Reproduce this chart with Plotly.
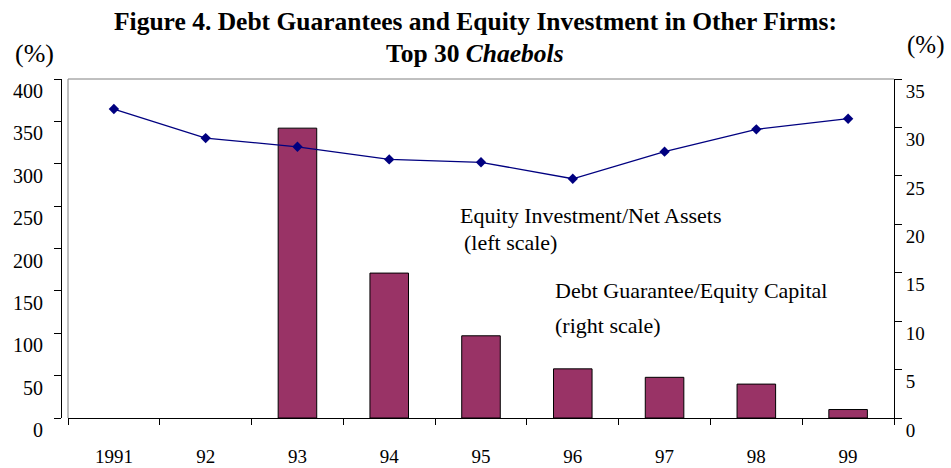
import plotly.graph_objects as go

categories = ["1991", "92", "93", "94", "95", "96", "97", "98", "99"]
bar_values = [None, None, 342, 171, 97, 58, 48, 40, 10]
line_values = [31.9, 28.9, 28.0, 26.7, 26.4, 24.7, 27.5, 29.8, 30.9]
left_ticks = [0, 50, 100, 150, 200, 250, 300, 350, 400]
right_ticks = [0, 5, 10, 15, 20, 25, 30, 35]

FONT = "Liberation Serif, Times New Roman, serif"

fig = go.Figure()
fig.add_trace(go.Bar(
    x=categories, y=bar_values, yaxis="y", xaxis="x",
    marker=dict(color="#993366", line=dict(color="black", width=1)),
    width=0.42, showlegend=False,
))
fig.add_trace(go.Scatter(
    x=categories, y=line_values, yaxis="y2", xaxis="x",
    mode="lines+markers",
    line=dict(color="#000080", width=1.3),
    marker=dict(symbol="diamond", size=8, color="#000080"),
    showlegend=False,
))

W, H = 951, 468
L, R, T, B = 61, 57, 79, 50
pw = W - L - R
ph = H - T - B

def px_x(x):
    return (x - L) / pw

def px_y(y):
    return (H - B - y) / ph

fig.update_layout(
    width=W, height=H,
    margin=dict(l=L, r=R, t=T, b=B, autoexpand=False),
    paper_bgcolor="white", plot_bgcolor="white",
    font=dict(family=FONT, size=19, color="black"),
    xaxis=dict(
        domain=[7 / pw, 1], type="category", range=[-0.5, 8.5],
        showline=True, linecolor="black", linewidth=1,
        ticks="outside", tickson="boundaries", ticklen=6, tickcolor="black",
        ticklabelstandoff=21, showgrid=False, zeroline=False, automargin=False,
        tickfont=dict(family=FONT, size=19),
    ),
    yaxis=dict(
        range=[0, 400], tickvals=left_ticks, anchor="free", position=0,
        showline=True, linecolor="black", linewidth=1,
        ticks="outside", ticklen=7, tickcolor="black",
        ticklabelshift=12, ticklabelstandoff=7, automargin=False,
        showgrid=False, zeroline=False,
        tickfont=dict(family=FONT, size=20),
    ),
    yaxis2=dict(
        range=[0, 35], tickvals=right_ticks, overlaying="y", side="right", anchor="x",
        showline=True, linecolor="black", linewidth=1,
        ticks="outside", ticklen=7, tickcolor="black",
        ticklabelshift=12, ticklabelstandoff=0, automargin=False,
        showgrid=False, zeroline=False,
        tickfont=dict(family=FONT, size=19),
    ),
    bargap=0.5,
)

# frame lines (top and left border of plot area)
fig.add_shape(type="line", xref="x domain", yref="y domain", x0=0, x1=1, y0=1, y1=1,
              line=dict(color="#808080", width=1))
fig.add_shape(type="line", xref="x domain", yref="y domain", x0=0, x1=0, y0=0, y1=1,
              line=dict(color="#808080", width=1))

ann = []
ann.append(dict(text="<b>Figure 4. Debt Guarantees and Equity Investment in Other Firms:</b>",
                x=px_x(475), y=px_y(22), xref="paper", yref="paper",
                xanchor="center", yanchor="middle", showarrow=False,
                font=dict(family=FONT, size=25.5)))
ann.append(dict(text="<b>Top 30 <i>Chaebols</i></b>",
                x=px_x(475), y=px_y(53), xref="paper", yref="paper",
                xanchor="center", yanchor="middle", showarrow=False,
                font=dict(family=FONT, size=25.5)))
ann.append(dict(text="(%)", x=px_x(34), y=px_y(53), xref="paper", yref="paper",
                xanchor="center", yanchor="middle", showarrow=False,
                font=dict(family=FONT, size=26)))
ann.append(dict(text="(%)", x=px_x(925), y=px_y(45), xref="paper", yref="paper",
                xanchor="center", yanchor="middle", showarrow=False,
                font=dict(family=FONT, size=25)))
ann.append(dict(text="Equity Investment/Net Assets", x=px_x(458), y=px_y(215),
                xref="paper", yref="paper", xanchor="left", yanchor="middle",
                showarrow=False, font=dict(family=FONT, size=22)))
ann.append(dict(text="(left scale)", x=px_x(462), y=px_y(242),
                xref="paper", yref="paper", xanchor="left", yanchor="middle",
                showarrow=False, font=dict(family=FONT, size=22)))
ann.append(dict(text="Debt Guarantee/Equity Capital", x=px_x(553), y=px_y(290),
                xref="paper", yref="paper", xanchor="left", yanchor="middle",
                showarrow=False, font=dict(family=FONT, size=22)))
ann.append(dict(text="(right scale)", x=px_x(553), y=px_y(325),
                xref="paper", yref="paper", xanchor="left", yanchor="middle",
                showarrow=False, font=dict(family=FONT, size=22)))
fig.update_layout(annotations=ann)

fig.write_html("out.html", config={"displayModeBar": False},
               post_script="document.body.style.margin='0';document.body.style.overflow='hidden';")
